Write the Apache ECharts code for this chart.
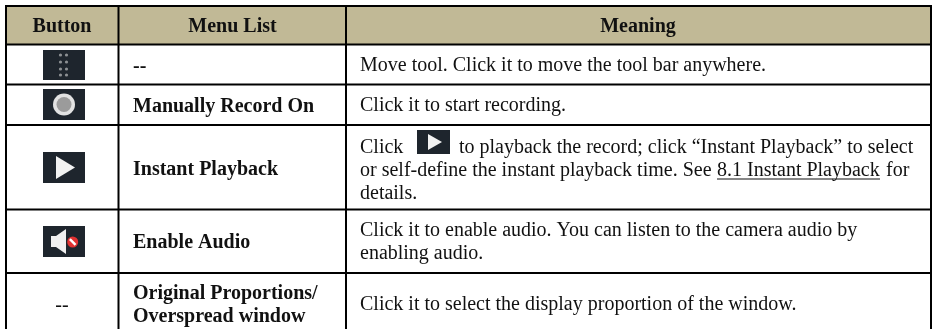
<!DOCTYPE html>
<html><head><meta charset="utf-8">
<style>html,body{margin:0;padding:0;background:#fff}#c{width:933px;height:329px}</style>
<script src="https://cdn.jsdelivr.net/npm/echarts@6/dist/echarts.min.js"></script>
</head><body><div id="c"></div>
<script>
const headers = ["Button", "Menu List", "Meaning"];
const buttonCol = ["", "", "", "", "--"];
const menuCol = [["--"], ["Manually Record On"], ["Instant Playback"], ["Enable Audio"], ["Original Proportions/", "Overspread window"]];
const meaningCol = [
  ["Move tool. Click it to move the tool bar anywhere."],
  ["Click it to start recording."],
  ["Click", "to playback the record; click “Instant Playback” to select", "or self-define the instant playback time. See", "8.1 Instant Playback", "for", "details."],
  ["Click it to enable audio. You can listen to the camera audio by", "enabling audio."],
  ["Click it to select the display proportion of the window."]
];

const rowEdges = [6, 44.5, 84.5, 125, 209.5, 273];
const colEdges = [6, 118.5, 346, 931];
const bottomY = 329;
const textFont = '"Liberation Serif"';
const black = '#000';
const iconBg = '#1e252d';
const g = [];
const T = (x, y, s, o = {}) => g.push({ type: 'text', x, y: y + 1, silent: true, style: Object.assign({
  text: s, fontFamily: textFont, fontSize: 20, fill: '#111', textAlign: 'left', textVerticalAlign: 'middle', textBaseline: 'middle'
}, o) });
const R = (x, y, w, h, fill) => g.push({ type: 'rect', shape: { x, y, width: w, height: h }, style: { fill }, silent: true });
const C = (cx, cy, r, fill) => g.push({ type: 'circle', shape: { cx, cy, r }, style: { fill }, silent: true });
const P = (points, fill) => g.push({ type: 'polygon', shape: { points }, style: { fill }, silent: true });

R(colEdges[0], rowEdges[0], colEdges[3] - colEdges[0], rowEdges[1] - rowEdges[0], '#c1b996');

// header text
const B = { fontWeight: 'bold', fontSize: 20 };
T(62, 26, headers[0], Object.assign({ textAlign: 'center' }, B));
T(232.5, 26, headers[1], Object.assign({ textAlign: 'center' }, B));
T(638, 26, headers[2], Object.assign({ textAlign: 'center' }, B));

// menu column
const menuY = [[66], [106], [169], [242], [293, 316]];
menuCol.forEach((lines, r) => lines.forEach((s, i) => T(133, menuY[r][i], s, B)));
T(62, 305, buttonCol[4], { textAlign: 'center' });

// meaning column
T(360, 65, meaningCol[0][0]);
T(360, 105, meaningCol[1][0]);
T(360, 147, meaningCol[2][0]);
T(459, 147, meaningCol[2][1]);
T(360, 170, meaningCol[2][2]);
T(717, 170, meaningCol[2][3]);
T(886, 170, meaningCol[2][4]);
T(360, 193, meaningCol[2][5]);
R(717, 178.5, 163, 1, '#111');
T(360, 230, meaningCol[3][0]);
T(360, 253, meaningCol[3][1]);
T(360, 304, meaningCol[4][0]);

// icons
R(43, 50, 42, 30, iconBg);
[60.5, 66.5].forEach(x => [55, 62, 69, 75].forEach(y => C(x, y, 1.6, '#8d9093')));
R(43, 89, 42, 31, iconBg);
C(64, 104.5, 11, '#e2e2e2'); C(64, 104.5, 7.5, '#9b9b9b');
R(43, 152, 42, 31, iconBg);
P([[56, 156], [75, 167.5], [56, 179]], '#f2f2f2');
R(43, 226, 42, 31, iconBg);
P([[51, 236], [56, 236], [66, 229], [66, 254], [56, 247], [51, 247]], '#f0f0f0');
C(72.7, 242, 5.5, '#e23232');
g.push({ type: 'rect', shape: { x: -4, y: -1.2, width: 8, height: 2.4 }, x: 72.7, y: 242, rotation: -Math.PI / 4, style: { fill: '#fff' }, silent: true });
R(417, 130, 33, 24, iconBg);
P([[428, 134], [442, 142], [428, 150]], '#f2f2f2');

// table rules
rowEdges.forEach(y => R(colEdges[0] - 1, y - 1, colEdges[3] - colEdges[0] + 2, 2, black));
colEdges.forEach(x => R(x - 1, rowEdges[0] - 1, 2, bottomY - rowEdges[0] + 1, black));

const chart = echarts.init(document.getElementById('c'), null, { renderer: 'canvas' });
chart.setOption({ animation: false, backgroundColor: '#fff', graphic: { elements: g } });
</script></body></html>
